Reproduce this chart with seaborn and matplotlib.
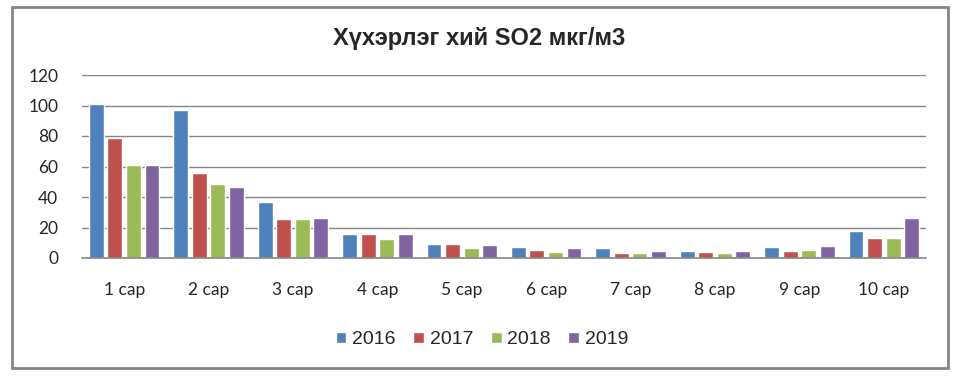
import matplotlib
matplotlib.use("Agg")
import matplotlib.pyplot as plt
from matplotlib.patches import Rectangle
import pandas as pd
import seaborn as sns

months = ["1 сар", "2 сар", "3 сар", "4 сар", "5 сар", "6 сар", "7 сар", "8 сар", "9 сар", "10 сар"]
years = ["2016", "2017", "2018", "2019"]
so2_2016 = [101, 97, 37, 16, 9.2, 7.3, 6.7, 4.7, 7.3, 17.6]
so2_2017 = [78.5, 56, 25.7, 15.7, 9.2, 5.4, 3.4, 4.1, 4.7, 13.1]
so2_2018 = [61, 48.5, 25.7, 12.5, 6.7, 4.1, 3.4, 3.4, 5.4, 13.1]
so2_2019 = [61, 46.5, 26.3, 15.7, 8.6, 6.7, 4.7, 4.7, 8.0, 26.0]
colors = ["#4F81BD", "#C0504D", "#9BBB59", "#8064A2"]

rows = []
for year, vals in zip(years, [so2_2016, so2_2017, so2_2018, so2_2019]):
    for m, v in zip(months, vals):
        rows.append({"month": m, "year": year, "value": v})
df = pd.DataFrame(rows)

sns.set_style("white")
plt.rcParams["font.family"] = ["Lato", "DejaVu Sans"]

fig = plt.figure(figsize=(9.56, 3.8), dpi=100)
ax = fig.add_axes([82 / 956, 1 - 258 / 380, (926 - 82) / 956, (258 - 75) / 380])

sns.barplot(
    data=df, x="month", y="value", hue="year",
    order=months, hue_order=years, palette=colors,
    width=0.88, gap=0.2, saturation=1, ax=ax, legend=True,
)

ax.set_ylim(0, 120)
ax.set_yticks(range(0, 121, 20))
ax.set_xlim(-0.5, len(months) - 0.5)
ax.yaxis.grid(True, color="#868686", linewidth=1)
ax.set_axisbelow(True)
for side in ["top", "right", "left"]:
    ax.spines[side].set_visible(False)
ax.spines["bottom"].set_color("#868686")
ax.spines["bottom"].set_linewidth(1.2)
ax.tick_params(axis="both", length=0, labelsize=12.5)
ax.tick_params(axis="y", pad=17)
ax.tick_params(axis="x", pad=17)
ax.set_xlabel("")
ax.set_ylabel("")

handles, labels = ax.get_legend_handles_labels()
ax.legend_.remove()
fig.legend(
    handles, labels, loc="center", bbox_to_anchor=(482 / 956, 1 - 340 / 380),
    ncol=4, frameon=False, handlelength=0.55, handleheight=0.55,
    handletextpad=0.3, columnspacing=0.9,
    prop={"family": "Liberation Sans", "size": 14},
)

fig.text(479 / 956, 1 - 38 / 380, "Хүхэрлэг хий SO2 мкг/м3", ha="center", va="center",
         fontsize=17, fontweight="bold", family="Liberation Sans")

fig.patches.append(Rectangle((12 / 956, 1 - 368 / 380), (948 - 12) / 956, (368 - 7) / 380,
                             transform=fig.transFigure, fill=False,
                             edgecolor="#868686", linewidth=2))

fig.savefig("out.png", dpi=100)
